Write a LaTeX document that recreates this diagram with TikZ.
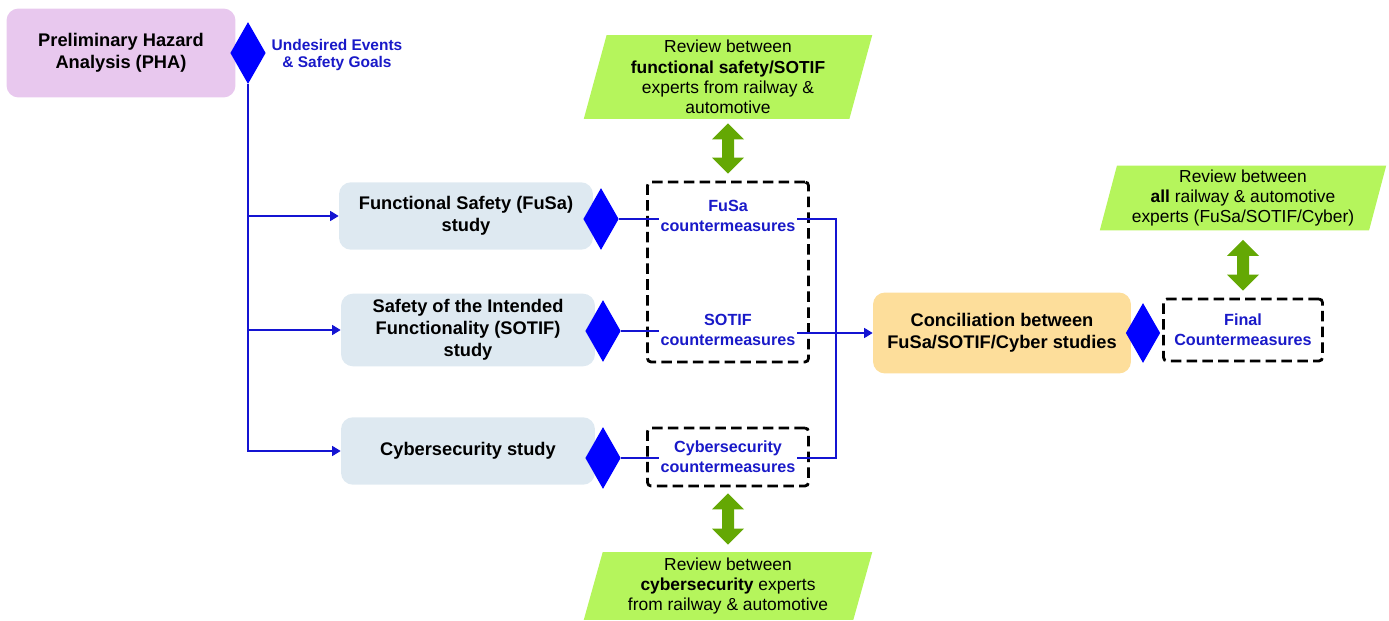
\documentclass[tikz,border=0pt]{standalone}
\usepackage{fontspec}
\setmainfont{Liberation Sans}
\usetikzlibrary{arrows.meta, positioning, shapes.geometric}

\definecolor{phapink}{RGB}{232,200,238}
\definecolor{studyblue}{RGB}{222,233,241}
\definecolor{concorange}{RGB}{253,222,155}
\definecolor{reviewgreen}{RGB}{181,245,92}
\definecolor{arrowgreen}{RGB}{100,168,4}
\definecolor{gateblue}{RGB}{0,0,255}
\definecolor{linkblue}{RGB}{20,20,210}
\definecolor{cmblue}{RGB}{25,25,200}

\begin{document}
\begin{tikzpicture}[
    x=0.02cm, y=-0.02cm,
    font=\fontsize{10.4}{12.5}\selectfont\bfseries,
    study/.style={rectangle, rounded corners=0.24cm, fill=studyblue, align=center, minimum width=5.08cm, minimum height=1.35cm},
    gate/.style={diamond, fill=gateblue, inner sep=0pt, minimum width=0.71cm, minimum height=1.24cm},
    cmtext/.style={text=cmblue, font=\fontsize{9.2}{11.4}\selectfont\bfseries, align=center, inner sep=1pt},
    cmbox/.style={draw, line width=1.6pt, dash pattern=on 6pt off 3pt, rounded corners=2pt},
    review/.style={trapezium, trapezium stretches=true, fill=reviewgreen, align=center, inner sep=0pt, font=\fontsize{9.9}{11.5}\selectfont},
    link/.style={draw=linkblue, line width=0.8pt},
    arrow/.style={link, -{Triangle[length=0.17cm, width=0.2cm]}},
    twoway/.style={draw=arrowgreen, line width=0.24cm, {Triangle[length=0.32cm, width=0.62cm]}-{Triangle[length=0.32cm, width=0.62cm]}}
]
\useasboundingbox (0,0) rectangle (1389,621);

\node (pha) [rectangle, rounded corners=0.24cm, fill=phapink, align=center, minimum width=4.58cm, minimum height=1.78cm] at (121,53) {Preliminary Hazard\\Analysis (PHA)};
\node (g0) [gate] at (248,53) {};
\node (goals) [cmtext, font=\fontsize{8.8}{10.2}\selectfont\bfseries] at (337,55) {Undesired Events\\\& Safety Goals};

\node (fusa) [study] at (466,216) {Functional Safety (FuSa)\\study};
\node (sotif) [study] at (468,330) {Safety of the Intended\\Functionality (SOTIF)\\study};
\node (cyber) [study] at (468,451) {Cybersecurity study};

\node (g1) [gate] at (601,219) {};
\node (g2) [gate] at (603,331) {};
\node (g3) [gate] at (603,458) {};

\node (cmbox1) [cmbox, minimum width=3.22cm, minimum height=3.6cm] at (728,272) {};
\node (cmbox2) [cmbox, minimum width=3.22cm, minimum height=1.16cm] at (728,457) {};
\node (fusacm) [cmtext] at (728,216) {FuSa\\countermeasures};
\node (sotifcm) [cmtext] at (728,330) {SOTIF\\countermeasures};
\node (cybcm) [cmtext] at (728,457) {Cybersecurity\\countermeasures};

\node (conc) [rectangle, rounded corners=0.24cm, fill=concorange, align=center, minimum width=5.16cm, minimum height=1.62cm] at (1002,333) {Conciliation between\\FuSa/SOTIF/Cyber studies};
\node (g4) [gate, minimum width=0.69cm, minimum height=1.2cm] at (1143,333) {};
\node (final) [cmbox, cmtext, minimum width=3.18cm, minimum height=1.24cm] at (1243,330) {Final\\Countermeasures};

\node (rev1) [review, trapezium left angle=76, trapezium right angle=104, minimum width=5.78cm, minimum height=1.68cm] at (728,77) {Review between\\\textbf{functional safety/SOTIF}\\experts from railway \&\\automotive};
\node (rev2) [review, trapezium left angle=75, trapezium right angle=105, minimum width=5.78cm, minimum height=1.36cm] at (728,586) {Review between\\\textbf{cybersecurity} experts\\from railway \& automotive};
\node (rev3) [review, trapezium left angle=75, trapezium right angle=105, minimum width=5.74cm, minimum height=1.3cm] at (1243,198) {Review between\\\textbf{all} railway \& automotive\\experts (FuSa/SOTIF/Cyber)};

\draw [arrow] (g0.south) |- (fusa.west);
\draw [arrow] (g0.south) |- (sotif.west);
\draw [arrow] (g0.south) |- (cyber.west);

\draw [link] (g1.east) -- (fusacm.west |- g1.east);
\draw [link] (g2.east) -- (sotifcm.west |- g2.east);
\draw [link] (g3.east) -- (cybcm.west |- g3.east);

\coordinate (merge) at (836,333);
\draw [link] (fusacm.east |- g1.east) -| (merge);
\draw [link] (cybcm.east |- g3.east) -| (merge);
\draw [arrow] (sotifcm.east |- conc.west) -- (conc.west);

\draw [twoway, shorten <=0.08cm, shorten >=0.14cm] (rev1.south) -- (cmbox1.north);
\draw [twoway, shorten <=0.12cm, shorten >=0.14cm] (cmbox2.south) -- (rev2.north);
\draw [twoway, shorten <=0.18cm, shorten >=0.14cm] (rev3.south) -- (final.north);

\end{tikzpicture}
\end{document}
